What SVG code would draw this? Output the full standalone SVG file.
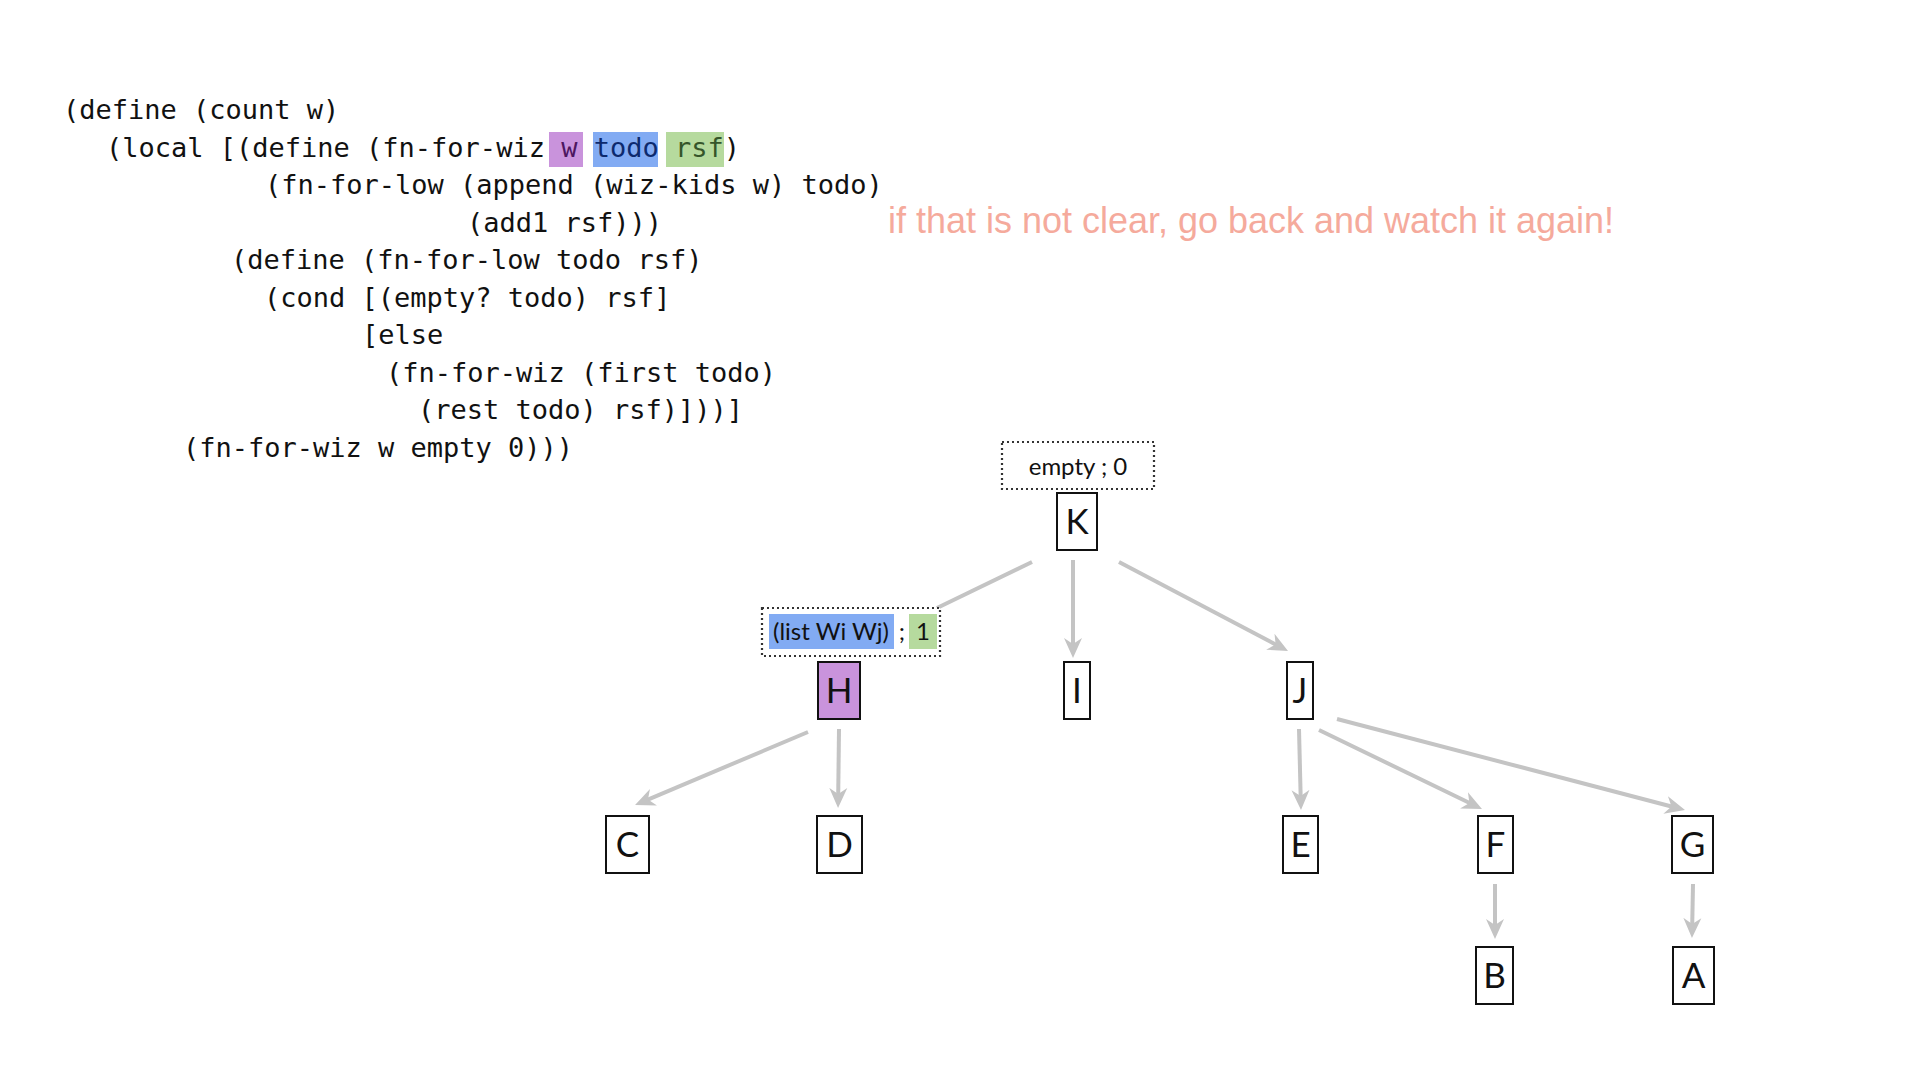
<svg xmlns="http://www.w3.org/2000/svg" width="1920" height="1080" viewBox="0 0 1920 1080">
<defs>
<style>
.code{font-family:"DejaVu Sans Mono","Liberation Mono",monospace;font-size:27px;fill:#111}
.note{font-family:"Liberation Sans",Arial,sans-serif;font-size:36px;fill:#f5aa9c}
.box{fill:#fff;stroke:#111;stroke-width:2}
.dot{fill:#fff;stroke:#333;stroke-width:2.2;stroke-dasharray:2 3}
.lbl{font-family:Lato,"Open Sans",sans-serif;font-size:35px;fill:#111;text-anchor:middle}
.acc{font-family:Lato,"Open Sans",sans-serif;font-size:24px;fill:#111}
.edge{stroke:#c4c4c4;stroke-width:4;fill:none}
.arr{marker-end:url(#ah)}
</style>
<marker id="ah" viewBox="0 0 20 20" refX="8" refY="10" markerWidth="20" markerHeight="20" markerUnits="userSpaceOnUse" orient="auto">
<path d="M0,1 L20,10 L0,19 L6,10 Z" fill="#c4c4c4"/>
</marker>
</defs>
<rect width="1920" height="1080" fill="#fff"/>

<g id="code">
<rect x="549" y="132" width="34" height="35" fill="#c993dc"/>
<rect x="593" y="132" width="65" height="35" fill="#82abf3"/>
<rect x="666" y="132" width="58" height="35" fill="#b6da9e"/>
<text class="code" x="63" y="119">(define (count w)</text>
<text class="code" x="106" y="156.5">(local [(define (fn-for-wiz <tspan fill="#4d1660">w</tspan> <tspan fill="#0d2a6e">todo</tspan> <tspan fill="#35552a">rsf</tspan>)</text>
<text class="code" x="265" y="194">(fn-for-low (append (wiz-kids w) todo)</text>
<text class="code" x="467" y="231.5">(add1 rsf)))</text>
<text class="code" x="231" y="269">(define (fn-for-low todo rsf)</text>
<text class="code" x="264" y="306.5">(cond [(empty? todo) rsf]</text>
<text class="code" x="362" y="344">[else</text>
<text class="code" x="386" y="381.5">(fn-for-wiz (first todo)</text>
<text class="code" x="418" y="419">(rest todo) rsf)]))]</text>
<text class="code" x="183" y="456.5">(fn-for-wiz w empty 0)))</text>
</g>

<text class="note" x="888" y="233" textLength="726" lengthAdjust="spacingAndGlyphs">if that is not clear, go back and watch it again!</text>

<g id="connectors">
<line class="edge" x1="1032" y1="562" x2="937" y2="608"/>
<line class="edge arr" x1="1073" y1="560" x2="1073" y2="646"/>
<line class="edge arr" x1="1119" y1="562" x2="1277.4" y2="645.4"/>
<line class="edge arr" x1="808" y1="732" x2="646.1" y2="800.3"/>
<line class="edge arr" x1="839" y1="729" x2="838.2" y2="796"/>
<line class="edge arr" x1="1299" y1="729" x2="1300.7" y2="798"/>
<line class="edge arr" x1="1319" y1="730" x2="1471.2" y2="803.8"/>
<line class="edge arr" x1="1337" y1="719" x2="1673.4" y2="807"/>
<line class="edge arr" x1="1495" y1="884" x2="1495" y2="927"/>
<line class="edge arr" x1="1693" y1="884" x2="1692.2" y2="926"/>
</g>

<g id="acc-K">
<rect class="dot" x="1002" y="442" width="152" height="47"/>
<text class="acc" x="1078" y="475" text-anchor="middle">empty ; 0</text>
</g>
<g id="node-K"><rect class="box" x="1057" y="493" width="40" height="57"/><text class="lbl" x="1077" y="534">K</text></g>

<g id="acc-H">
<rect class="dot" x="762" y="608" width="178" height="48"/>
<rect x="769" y="614" width="125" height="35" fill="#82abf3"/>
<rect x="909" y="614" width="28" height="35" fill="#b6da9e"/>
<text class="acc" x="831" y="640" text-anchor="middle" fill="#0d2a6e">(list Wi Wj)</text>
<text class="acc" x="902" y="640" text-anchor="middle">;</text>
<text class="acc" x="923" y="640" text-anchor="middle" fill="#35552a">1</text>
</g>
<g id="node-H"><rect x="818" y="662" width="42" height="57" fill="#c993dc" stroke="#111" stroke-width="2"/><text class="lbl" x="839" y="703" fill="#4d1660">H</text></g>
<g id="node-I"><rect class="box" x="1064" y="662" width="26" height="57"/><text class="lbl" x="1077" y="703">I</text></g>
<g id="node-J"><rect class="box" x="1287" y="662" width="26" height="57"/><text class="lbl" x="1300" y="703">J</text></g>
<g id="node-C"><rect class="box" x="606" y="816" width="43" height="57"/><text class="lbl" x="627.5" y="857">C</text></g>
<g id="node-D"><rect class="box" x="817" y="816" width="45" height="57"/><text class="lbl" x="839.5" y="857">D</text></g>
<g id="node-E"><rect class="box" x="1283" y="816" width="35" height="57"/><text class="lbl" x="1300.5" y="857">E</text></g>
<g id="node-F"><rect class="box" x="1478" y="816" width="35" height="57"/><text class="lbl" x="1495.5" y="857">F</text></g>
<g id="node-G"><rect class="box" x="1672" y="816" width="41" height="57"/><text class="lbl" x="1692.5" y="857">G</text></g>
<g id="node-B"><rect class="box" x="1476" y="947" width="37" height="57"/><text class="lbl" x="1494.5" y="988">B</text></g>
<g id="node-A"><rect class="box" x="1673" y="947" width="41" height="57"/><text class="lbl" x="1693.5" y="988">A</text></g>
</svg>
